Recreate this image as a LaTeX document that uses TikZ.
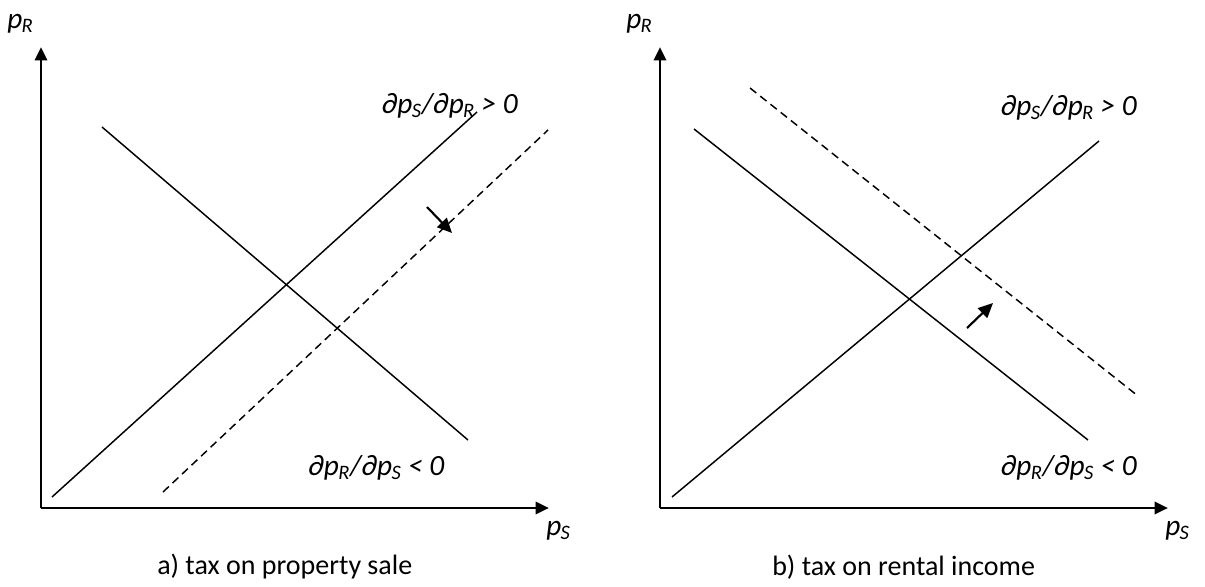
\documentclass[tikz,border=0pt]{standalone}
\usepackage{fontspec}
\setmainfont{Carlito}
\usetikzlibrary{arrows.meta}
\tikzset{
  axis/.style={line width=2.2pt,-{Triangle[length=10pt,width=9pt]}},
  curve/.style={line width=1.1pt},
  shifted/.style={line width=1.1pt,dash pattern=on 6pt off 3.8pt},
  shiftarrow/.style={line width=1.6pt,-{Triangle[length=11pt,width=10pt]}},
  lbl/.style={font=\fontsize{22}{26}\selectfont\itshape,inner sep=0pt},
  captext/.style={font=\fontsize{21}{25}\selectfont,inner sep=0pt}
}
\newcommand{\pS}{p\textsubscript{\kern-0.5pt S}}
\newcommand{\pR}{p\textsubscript{\kern-0.5pt R}}
\begin{document}
\begin{tikzpicture}[x=0.75pt,y=-0.75pt]
\useasboundingbox (0,0) rectangle (1205,586);
% ---------- panel a ----------
\coordinate (aO) at (41,508);
\coordinate (aY) at (41,47);
\coordinate (aX) at (549,508);
\draw[axis] (aO) -- (aY);
\draw[axis] (aO) -- (aX);
\node[lbl,anchor=west] (apR) at (7,24) {\pR};
\node[lbl,anchor=west] (apS) at (546,531) {\pS};
\coordinate (aS1) at (52,497);
\coordinate (aS2) at (477,112);
\coordinate (aD1) at (102,127);
\coordinate (aD2) at (468,440);
\coordinate (aT1) at (163,492);
\coordinate (aT2) at (548,130);
\draw[curve] (aS1) -- (aS2);
\draw[curve] (aD1) -- (aD2);
\draw[shifted] (aT1) -- (aT2);
\coordinate (aA1) at (427,207);
\coordinate (aA2) at (452,233);
\draw[shiftarrow] (aA1) -- (aA2);
\node[lbl,anchor=east] (aup) at (518,106) {∂\pS/∂\pR\ > 0};
\node[lbl,anchor=west] (alo) at (308,468) {∂\pR/∂\pS\ < 0};
\node[captext,anchor=west] (acap) at (157,567) {a) tax on property sale};
% ---------- panel b ----------
\coordinate (bO) at (660,508);
\coordinate (bY) at (660,47);
\coordinate (bX) at (1168,508);
\draw[axis] (bO) -- (bY);
\draw[axis] (bO) -- (bX);
\node[lbl,anchor=west] (bpR) at (626,24) {\pR};
\node[lbl,anchor=west] (bpS) at (1165,531) {\pS};
\coordinate (bS1) at (672,497);
\coordinate (bS2) at (1099,141);
\coordinate (bD1) at (694,129);
\coordinate (bD2) at (1088,440);
\coordinate (bT1) at (750,88);
\coordinate (bT2) at (1138,396);
\draw[curve] (bS1) -- (bS2);
\draw[curve] (bD1) -- (bD2);
\draw[shifted] (bT1) -- (bT2);
\coordinate (bA1) at (967,328);
\coordinate (bA2) at (993,303);
\draw[shiftarrow] (bA1) -- (bA2);
\node[lbl,anchor=east] (bup) at (1137,108) {∂\pS/∂\pR\ > 0};
\node[lbl,anchor=east] (blo) at (1137,468) {∂\pR/∂\pS\ < 0};
\node[captext,anchor=west] (bcap) at (772,567) {b) tax on rental income};
\end{tikzpicture}
\end{document}
